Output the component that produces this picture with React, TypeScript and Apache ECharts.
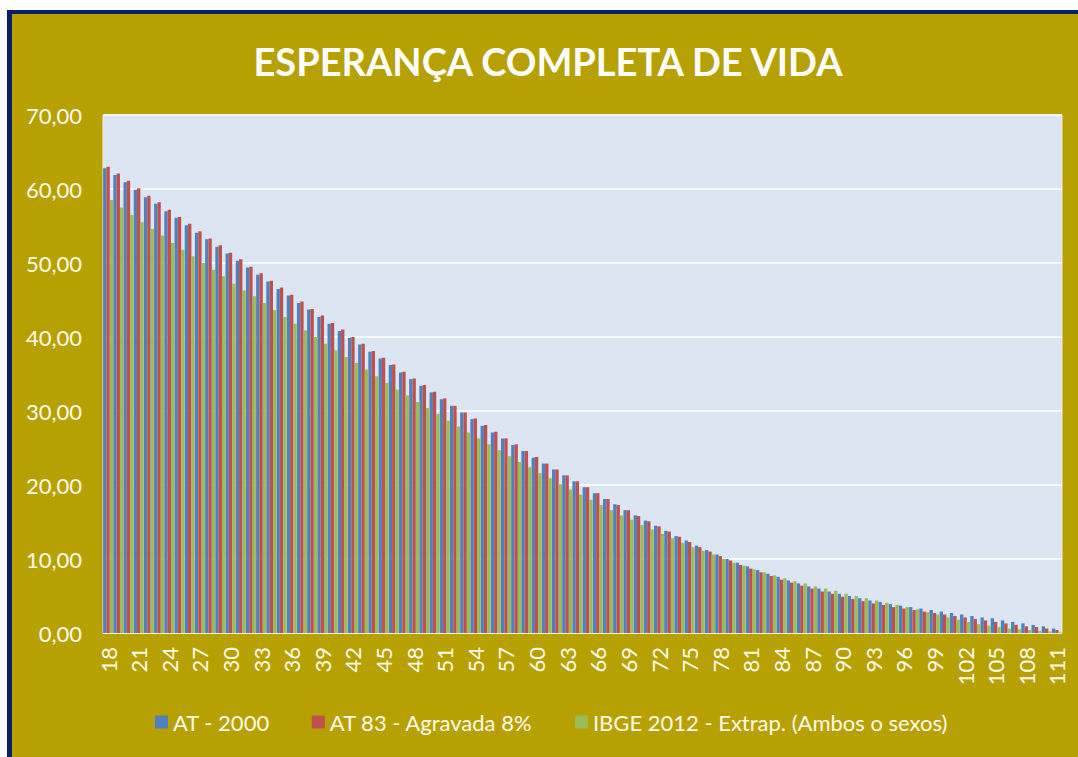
import React, { useEffect, useRef } from "react";
import * as echarts from "echarts";

const ages: string[] = [];
for (let a = 18; a <= 111; a++) ages.push(String(a));

const at2000 = [
  62.8, 61.9, 60.9, 59.9, 58.9, 58.0, 57.0, 56.1, 55.1, 54.1,
  53.2, 52.2, 51.3, 50.3, 49.4, 48.4, 47.5, 46.5, 45.6, 44.6,
  43.7, 42.7, 41.8, 40.8, 39.9, 39.0, 38.0, 37.1, 36.2, 35.2,
  34.3, 33.4, 32.5, 31.6, 30.7, 29.8, 28.9, 28.0, 27.1, 26.3,
  25.4, 24.6, 23.7, 22.9, 22.1, 21.3, 20.5, 19.7, 18.9, 18.1,
  17.4, 16.6, 15.9, 15.2, 14.5, 13.8, 13.1, 12.5, 11.8, 11.2,
  10.6, 10.0, 9.5, 9.0, 8.5, 8.0, 7.6, 7.1, 6.7, 6.3,
  6.0, 5.6, 5.3, 5.0, 4.7, 4.4, 4.2, 3.9, 3.7, 3.5,
  3.3, 3.1, 2.9, 2.7, 2.5, 2.3, 2.1, 2.0, 1.7, 1.5,
  1.3, 1.1, 0.9, 0.6,
];

const at83 = [
  63.0, 62.1, 61.1, 60.1, 59.1, 58.2, 57.2, 56.2, 55.3, 54.3,
  53.3, 52.4, 51.4, 50.5, 49.5, 48.6, 47.6, 46.7, 45.7, 44.8,
  43.8, 42.9, 41.9, 41.0, 40.0, 39.1, 38.1, 37.2, 36.3, 35.3,
  34.4, 33.5, 32.6, 31.7, 30.7, 29.8, 29.0, 28.1, 27.2, 26.3,
  25.5, 24.6, 23.8, 22.9, 22.1, 21.3, 20.5, 19.7, 18.9, 18.1,
  17.3, 16.6, 15.8, 15.1, 14.4, 13.7, 13.0, 12.3, 11.6, 11.0,
  10.4, 9.8, 9.2, 8.7, 8.2, 7.7, 7.2, 6.8, 6.4, 6.0,
  5.6, 5.3, 4.9, 4.6, 4.3, 4.0, 3.8, 3.5, 3.3, 3.1,
  2.9, 2.7, 2.5, 2.3, 2.1, 1.9, 1.7, 1.5, 1.3, 1.1,
  0.9, 0.8, 0.6, 0.4,
];

const ibge2012 = [
  58.5, 57.5, 56.5, 55.5, 54.6, 53.7, 52.7, 51.8, 50.9, 50.0,
  49.1, 48.2, 47.2, 46.3, 45.5, 44.6, 43.6, 42.7, 41.8, 40.9,
  40.0, 39.1, 38.2, 37.3, 36.5, 35.6, 34.7, 33.8, 32.9, 32.1,
  31.2, 30.4, 29.6, 28.7, 27.9, 27.1, 26.3, 25.5, 24.7, 23.9,
  23.1, 22.4, 21.6, 20.9, 20.1, 19.4, 18.7, 18.0, 17.3, 16.6,
  15.9, 15.3, 14.6, 14.0, 13.4, 12.8, 12.2, 11.6, 11.1, 10.6,
  10.0, 9.5, 9.1, 8.6, 8.2, 7.8, 7.4, 7.0, 6.7, 6.3,
  6.0, 5.7, 5.3, 5.0, 4.7, 4.4, 4.1, 3.8, 3.5, 3.2,
  2.8, 2.5, 2.1, 1.8, 1.5, 1.2, 1.0, 0.8, 0.6, 0.5,
  0.4, 0.3, 0.2, 0.1,
];

const seriesNames = [
  "AT - 2000",
  "AT 83 - Agravada 8%",
  "IBGE 2012 - Extrap. (Ambos o sexos)",
];
const seriesColors = ["#4F81BD", "#C0504D", "#9BBB59"];

const TEXT = "#FFFBE8";
const FONT = "Lato, 'Open Sans', sans-serif";

export default function App() {
  const ref = useRef<HTMLDivElement>(null);

  useEffect(() => {
    if (!ref.current) return;
    const chart = echarts.init(ref.current, undefined, { renderer: "svg" });
    const values = [at2000, at83, ibge2012];
    chart.setOption({
      animation: false,
      backgroundColor: "transparent",
      title: {
        text: "ESPERANÇA COMPLETA DE VIDA",
        left: 531,
        top: 23,
        textAlign: "center",
        textStyle: {
          color: "#FFFFFF",
          fontFamily: FONT,
          fontWeight: "bold",
          fontSize: 38,
        },
      },
      legend: {
        left: 138,
        top: 692,
        itemWidth: 13,
        itemHeight: 13,
        itemGap: 42,
        icon: "rect",
        textStyle: { color: TEXT, fontFamily: FONT, fontSize: 22 },
        data: seriesNames,
      },
      grid: {
        left: 91,
        top: 101,
        width: 959,
        height: 518,
        show: true,
        backgroundColor: "#DCE6F2",
        borderColor: "#EEF0E0",
        borderWidth: 1,
        containLabel: false,
      },
      xAxis: {
        type: "category",
        data: ages,
        axisLine: { show: false },
        axisTick: { show: false },
        axisLabel: {
          interval: 2,
          rotate: 90,
          margin: 14,
          color: TEXT,
          fontFamily: FONT,
          fontSize: 22,
        },
      },
      yAxis: {
        type: "value",
        min: 0,
        max: 70,
        interval: 10,
        axisLine: { show: false },
        axisTick: { show: false },
        axisLabel: {
          margin: 21,
          color: TEXT,
          fontFamily: FONT,
          fontSize: 22,
          formatter: (v: number) => v.toFixed(2).replace(".", ","),
        },
        splitLine: { lineStyle: { color: "#FFFFFF", width: 1.5 } },
      },
      series: seriesNames.map((name, i) => ({
        name,
        type: "bar",
        data: values[i],
        barGap: "0%",
        barCategoryGap: "2%",
        itemStyle: { color: seriesColors[i] },
      })),
    });
    return () => chart.dispose();
  }, []);

  return (
    <div
      style={{
        position: "fixed",
        left: 0,
        top: 0,
        width: 1078,
        height: 757,
        background: "#FFFFFF",
        overflow: "hidden",
      }}
    >
      <div
        style={{
          position: "absolute",
          left: 7,
          top: 10,
          width: 1071,
          height: 747,
          background: "#B7A102",
          borderLeft: "5px solid #0B1F66",
          borderTop: "4px solid #0B1F66",
          boxSizing: "border-box",
        }}
      >
        <div ref={ref} style={{ width: 1066, height: 743 }} />
      </div>
    </div>
  );
}
